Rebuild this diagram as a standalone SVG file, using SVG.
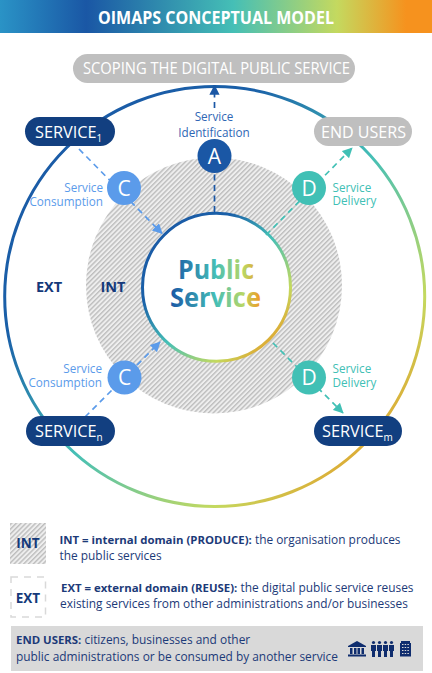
<svg xmlns="http://www.w3.org/2000/svg" width="432" height="673" viewBox="0 0 432 673">
<defs>
<linearGradient id="bar" x1="0" y1="0" x2="432" y2="0" gradientUnits="userSpaceOnUse"><stop offset="0" stop-color="#2a93c6"/><stop offset=".2" stop-color="#1a57a5"/><stop offset=".54" stop-color="#45bfb6"/><stop offset=".78" stop-color="#c4d95f"/><stop offset=".94" stop-color="#f6921e"/></linearGradient>
<linearGradient id="ring" x1="0" y1="0" x2="1" y2="1"><stop offset="0" stop-color="#1a57a5"/><stop offset=".3" stop-color="#1a60a8"/><stop offset=".52" stop-color="#45bfb6"/><stop offset=".75" stop-color="#c4d95f"/><stop offset=".87" stop-color="#dfa832"/><stop offset="1" stop-color="#e89a2a"/></linearGradient>
<linearGradient id="txt" x1="170" y1="0" x2="262" y2="0" gradientUnits="userSpaceOnUse"><stop offset="0" stop-color="#1a57a5"/><stop offset=".5" stop-color="#45bfb6"/><stop offset=".8" stop-color="#b9d764"/><stop offset="1" stop-color="#f6921e"/></linearGradient>
<pattern id="hatch" width="3.4" height="3.4" patternUnits="userSpaceOnUse" patternTransform="rotate(-45)"><rect width="3.4" height="3.4" fill="#eeeeee"/><rect width="3.4" height="1.4" fill="#bdbdbd"/></pattern>
<marker id="aB" markerWidth="6" markerHeight="6" refX="5.5" refY="3" orient="auto" markerUnits="strokeWidth"><path d="M0 0L6 3L0 6Z" fill="#1a57a5"/></marker>
<marker id="aL" markerWidth="6" markerHeight="6" refX="5.5" refY="3" orient="auto" markerUnits="strokeWidth"><path d="M0 0L6 3L0 6Z" fill="#5b9bea"/></marker>
<marker id="aT" markerWidth="6" markerHeight="6" refX="5.5" refY="3" orient="auto" markerUnits="strokeWidth"><path d="M0 0L6 3L0 6Z" fill="#41c0b5"/></marker>
</defs>
<style>
text{font-family:"Open Sans","Noto Sans","Liberation Sans",sans-serif}
.pill{font-size:16.3px;fill:#fff}
.sub{font-size:10px}
.lbl{font-size:11.7px}
.let{font-size:21px;fill:#fff;text-anchor:middle}
.leg{font-size:11.9px;fill:#1c3a78}
.b{font-weight:700;font-size:11.4px}
.tag{font-weight:700;fill:#14397a;text-anchor:middle}
.c{fill:none;stroke-width:1.7;stroke-dasharray:6 4.5}
.ic{fill:#0f2d6e}
</style>
<rect x="0" y="0" width="432" height="33" fill="url(#bar)"/>
<text x="216" y="24" text-anchor="middle" font-size="17" font-weight="700" fill="#fff" textLength="236" lengthAdjust="spacingAndGlyphs">OIMAPS CONCEPTUAL MODEL</text>
<circle id="outer-ring" cx="214.7" cy="296.5" r="210" fill="none" stroke="url(#ring)" stroke-width="3"/>
<circle id="int-domain" cx="214" cy="285.5" r="128" fill="url(#hatch)"/>
<circle id="public-service" cx="216.500" cy="287.3" r="74" fill="#fff" stroke="url(#ring)" stroke-width="3"/>
<g id="connectors">
<path class="c" d="M214.500 212V173" stroke="#1a57a5"/>
<path class="c" d="M214.500 108V85.500" stroke="#1a57a5" marker-end="url(#aB)"/>
<path class="c" d="M79 149L162 233.500" stroke="#5b9bea" marker-end="url(#aL)"/>
<path class="c" d="M266 235L352 148" stroke="#41c0b5" marker-end="url(#aT)"/>
<path class="c" d="M85 417L160 342" stroke="#5b9bea" marker-end="url(#aL)"/>
<path class="c" d="M273 343L343 413" stroke="#41c0b5" marker-end="url(#aT)"/>
</g>
<g id="scoping"><rect x="73" y="54" width="282" height="29" rx="14.500" fill="#bfbfbf"/><text x="216.500" y="74" text-anchor="middle" font-size="16" fill="#fff" textLength="267" lengthAdjust="spacingAndGlyphs">SCOPING THE DIGITAL PUBLIC SERVICE</text></g>
<g id="service-1"><rect x="25" y="117" width="90" height="29" rx="14.500" fill="#123f80"/><text class="pill" x="35" y="137.500">SERVICE<tspan class="sub" dy="4">1</tspan></text></g>
<g id="end-users"><rect x="314" y="117" width="98" height="29" rx="14.500" fill="#bfbfbf"/><text class="pill" x="363.500" y="137.500" text-anchor="middle" textLength="85" lengthAdjust="spacingAndGlyphs">END USERS</text></g>
<g id="service-n"><rect x="26" y="416" width="89" height="30" rx="15" fill="#123f80"/><text class="pill" x="35" y="437">SERVICE<tspan class="sub" dy="4">n</tspan></text></g>
<g id="service-m"><rect x="314" y="416" width="88" height="30" rx="15" fill="#123f80"/><text class="pill" x="322" y="437">SERVICE<tspan class="sub" dy="4">m</tspan></text></g>
<g id="node-a"><circle cx="214.500" cy="156" r="17" fill="#1a57a5"/><text class="let" x="214.500" y="163.500">A</text><text class="lbl" x="214" y="120.500" text-anchor="middle" fill="#2f67b5">Service</text><text class="lbl" x="214" y="137" text-anchor="middle" fill="#2f67b5">Identification</text></g>
<g id="node-c1"><circle cx="124" cy="188" r="17" fill="#5b9bea"/><text class="let" x="124" y="195.500">C</text><text class="lbl" x="103" y="192" text-anchor="end" fill="#5b9bea">Service</text><text class="lbl" x="103" y="206" text-anchor="end" fill="#5b9bea">Consumption</text></g>
<g id="node-d1"><circle cx="309" cy="188" r="17" fill="#41c0b5"/><text class="let" x="309" y="195.500">D</text><text class="lbl" x="332.500" y="192" fill="#41c0b5">Service</text><text class="lbl" x="332.500" y="205" fill="#41c0b5">Delivery</text></g>
<g id="node-c2"><circle cx="124.500" cy="377.500" r="17" fill="#5b9bea"/><text class="let" x="124.500" y="385">C</text><text class="lbl" x="102" y="373" text-anchor="end" fill="#5b9bea">Service</text><text class="lbl" x="102" y="387" text-anchor="end" fill="#5b9bea">Consumption</text></g>
<g id="node-d2"><circle cx="309" cy="377.500" r="17" fill="#41c0b5"/><text class="let" x="309" y="385">D</text><text class="lbl" x="332.500" y="373" fill="#41c0b5">Service</text><text class="lbl" x="332.500" y="387" fill="#41c0b5">Delivery</text></g>
<g id="center-text"><text x="216" y="279" text-anchor="middle" font-size="27.500" font-weight="700" fill="url(#txt)" textLength="76" lengthAdjust="spacingAndGlyphs">Public</text><text x="215.500" y="307" text-anchor="middle" font-size="27.500" font-weight="700" fill="url(#txt)" textLength="91" lengthAdjust="spacingAndGlyphs">Service</text></g>
<text class="tag" x="49" y="292" font-size="14.500">EXT</text>
<text class="tag" x="113" y="292" font-size="14.500">INT</text>
<g id="legend-int"><rect x="10" y="523" width="36" height="41" fill="url(#hatch)"/><text class="tag" x="28" y="548" font-size="13.500">INT</text><text class="leg" x="59.500" y="544"><tspan class="b">INT = internal domain (PRODUCE):</tspan> the organisation produces</text><text class="leg" x="59.500" y="560">the public services</text></g>
<g id="legend-ext"><rect x="11" y="577" width="34.500" height="40" fill="#fff" stroke="#d9d9d9" stroke-width="1.500" stroke-dasharray="7 6"/><text class="tag" x="28" y="603" font-size="13.500">EXT</text><text class="leg" x="61" y="592"><tspan class="b">EXT = external domain (REUSE):</tspan> the digital public service reuses</text><text class="leg" x="60" y="608">existing services from other administrations and/or businesses</text></g>
<g id="legend-users"><rect x="11" y="626" width="412" height="45" fill="#d9d9d9"/><text class="leg" x="16" y="644"><tspan class="b">END USERS:</tspan> citizens, businesses and other</text><text class="leg" x="16" y="661">public administrations or be consumed by another service</text>
<g id="icon-bank" class="ic"><path d="M357 641L366 646V647H348V646Z"/><rect x="350" y="648" width="2.500" height="6"/><rect x="354" y="648" width="2.500" height="6"/><rect x="357.500" y="648" width="2.500" height="6"/><rect x="361.500" y="648" width="2.500" height="6"/><rect x="348" y="654.500" width="18" height="2"/></g>
<g id="icon-people" class="ic"><circle cx="373.500" cy="642.500" r="1.600"/><path d="M371 645H376V651H375V657H372V651H371Z"/><circle cx="379.500" cy="642.500" r="1.600"/><path d="M377 645H382V651H381V657H378V651H377Z"/><circle cx="385.500" cy="642.500" r="1.600"/><path d="M383 645H388V651H387V657H384V651H383Z"/><circle cx="391.500" cy="642.500" r="1.600"/><path d="M389 645H394V651H393V657H390V651H389Z"/></g>
<g id="icon-building"><path class="ic" d="M401 641H410V643H411V656.500H400V643H401Z"/><path d="M402 644.500H409M402 647.500H409M402 650.500H409M402 653.500H409" stroke="#d9d9d9" stroke-width="1" stroke-dasharray="1.500 1.200" fill="none"/></g>
</g>
</svg>
